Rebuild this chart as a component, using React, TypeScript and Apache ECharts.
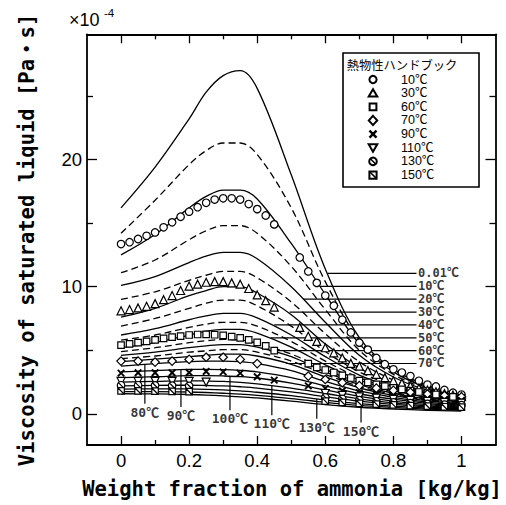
import React, { useEffect, useRef } from "react";
import * as echarts from "echarts";

// ---------- axes ----------
const X_MIN = -0.1;
const X_MAX = 1.1;
const Y_MIN = -2.45;
const Y_MAX = 29.85;
const xMajorTicks = [0, 0.2, 0.4, 0.6, 0.8, 1];
const xMinorTicks = [0.1, 0.3, 0.5, 0.7, 0.9];
const yMajorTicks = [0, 10, 20];
const yMinorTicks = [5, 15, 25];

// ---------- model curves (x = weight fraction) ----------
const curveX = [0, 0.1, 0.2, 0.25, 0.3, 0.35, 0.4, 0.5, 0.6, 0.7, 0.8, 0.9, 1.0];
const curveT001 = [16.2, 19.4, 23.2, 25.3, 26.6, 27.0, 25.6, 18.8, 11.4, 6.0, 3.5, 2.25, 1.5];
const curveT05 = [14.2, 16.8, 19.6, 20.7, 21.3, 21.3, 20.4, 16.2, 10.4, 5.8, 3.4, 2.15, 1.45];
const curveT10 = [12.5, 14.1, 16.2, 17.1, 17.6, 17.6, 16.9, 13.4, 9.4, 5.5, 3.3, 2.05, 1.4];
const curveT15 = [11.1, 12.1, 13.7, 14.4, 14.8, 14.8, 14.2, 11.6, 8.2, 5.0, 3.1, 1.95, 1.33];
const curveT20 = [10.1, 10.8, 11.9, 12.4, 12.7, 12.7, 12.2, 10.0, 7.2, 4.6, 2.9, 1.85, 1.27];
const curveT25 = [9.0, 9.6, 10.5, 10.9, 11.2, 11.2, 10.7, 8.8, 6.3, 4.1, 2.65, 1.72, 1.2];
const curveT30 = [7.6, 8.3, 9.3, 9.7, 10.0, 10.0, 9.5, 7.8, 5.5, 3.6, 2.4, 1.6, 1.13];
const curveT35 = [6.9, 7.5, 8.3, 8.7, 8.95, 8.95, 8.5, 6.9, 4.9, 3.3, 2.25, 1.5, 1.08];
const curveT40 = [6.2, 6.7, 7.4, 7.7, 7.9, 7.9, 7.55, 6.2, 4.5, 3.05, 2.1, 1.42, 1.03];
const curveT45 = [5.8, 6.2, 6.8, 7.05, 7.2, 7.2, 6.9, 5.7, 4.15, 2.85, 1.95, 1.35, 0.98];
const curveT50 = [5.2, 5.6, 6.2, 6.5, 6.65, 6.65, 6.35, 5.25, 3.85, 2.65, 1.85, 1.28, 0.93];
const curveT55 = [4.9, 5.2, 5.6, 5.75, 5.85, 5.8, 5.55, 4.7, 3.5, 2.45, 1.72, 1.2, 0.88];
const curveT60 = [4.6, 4.85, 5.2, 5.35, 5.45, 5.45, 5.25, 4.5, 3.3, 2.3, 1.62, 1.14, 0.84];
const curveT65 = [4.35, 4.55, 4.85, 4.95, 5.05, 5.05, 4.85, 4.15, 3.1, 2.17, 1.53, 1.08, 0.8];
const curveT70 = [4.1, 4.3, 4.5, 4.6, 4.7, 4.7, 4.55, 3.9, 2.9, 2.05, 1.45, 1.02, 0.76];
const curveT80 = [3.75, 3.95, 4.1, 4.15, 4.15, 4.1, 3.95, 3.4, 2.55, 1.8, 1.3, 0.92, 0.68];
const curveT90 = [3.3, 3.4, 3.5, 3.5, 3.48, 3.42, 3.3, 2.85, 2.2, 1.58, 1.15, 0.82, 0.6];
const curveT100 = [2.85, 2.92, 3.0, 3.0, 2.98, 2.93, 2.82, 2.42, 1.88, 1.38, 1.0, 0.72, 0.53];
const curveT110 = [2.5, 2.55, 2.6, 2.58, 2.55, 2.48, 2.36, 2.02, 1.6, 1.18, 0.87, 0.63, 0.47];
const curveT120 = [2.2, 2.24, 2.25, 2.23, 2.2, 2.13, 2.03, 1.73, 1.35, 1.0, 0.74, 0.54, 0.4];
const curveT130 = [1.95, 1.97, 1.96, 1.93, 1.88, 1.8, 1.7, 1.43, 1.08, 0.8, 0.6, 0.44, 0.33];
const curveT140 = [1.75, 1.75, 1.72, 1.68, 1.62, 1.55, 1.45, 1.2, 0.9, 0.66, 0.5, 0.37, 0.28];
const curveT150 = [1.58, 1.57, 1.52, 1.48, 1.42, 1.34, 1.25, 1.0, 0.73, 0.52, 0.38, 0.28, 0.22];

const curveNames = ["0.01", "5", "10", "15", "20", "25", "30", "35", "40", "45", "50", "55", "60", "65", "70", "80", "90", "100", "110", "120", "130", "140", "150"];
const curveDashed = [false, true, false, true, false, true, false, true, false, true, false, true, false, true, false, false, false, false, false, false, false, false, false];
const curveValues = [curveT001, curveT05, curveT10, curveT15, curveT20, curveT25, curveT30, curveT35, curveT40, curveT45, curveT50, curveT55, curveT60, curveT65, curveT70, curveT80, curveT90, curveT100, curveT110, curveT120, curveT130, curveT140, curveT150];

// ---------- handbook data (markers) ----------
const circleX = [0, 0.025, 0.05, 0.075, 0.1, 0.125, 0.15, 0.175, 0.2, 0.225, 0.25, 0.275, 0.3, 0.325, 0.35, 0.375, 0.4, 0.425, 0.45, 0.525, 0.55, 0.575, 0.6, 0.625, 0.65, 0.675, 0.7, 0.725, 0.75, 0.775, 0.8, 0.825, 0.85, 0.875, 0.9, 0.925, 0.95, 0.975, 1];
const circleY = [13.35, 13.5, 13.75, 14.0, 14.27, 14.67, 15.06, 15.5, 15.9, 16.25, 16.6, 16.85, 16.95, 16.95, 16.85, 16.5, 16.1, 15.6, 14.9, 12.3, 11.2, 10.3, 9.3, 8.5, 7.4, 6.4, 5.6, 5.05, 4.4, 3.9, 3.5, 3.25, 2.97, 2.6, 2.3, 2.15, 1.88, 1.66, 1.52];
const triangleX = [0, 0.025, 0.05, 0.075, 0.1, 0.125, 0.15, 0.175, 0.2, 0.225, 0.25, 0.275, 0.3, 0.325, 0.35, 0.375, 0.4, 0.425, 0.45, 0.525, 0.55, 0.575, 0.6, 0.625, 0.65, 0.675, 0.7, 0.725, 0.75, 0.775, 0.8, 0.825, 0.85, 0.875, 0.9, 0.925, 0.95, 0.975, 1];
const triangleY = [8.1, 8.2, 8.33, 8.46, 8.67, 8.98, 9.3, 9.7, 10.05, 10.2, 10.35, 10.4, 10.4, 10.3, 10.2, 9.86, 9.35, 8.9, 8.4, 6.8, 6.1, 5.7, 5.2, 4.8, 4.4, 3.97, 3.75, 3.4, 3.1, 2.85, 2.6, 2.4, 2.2, 2.02, 1.87, 1.73, 1.6, 1.48, 1.38];
const squareX = [0, 0.025, 0.05, 0.075, 0.1, 0.125, 0.15, 0.175, 0.2, 0.225, 0.25, 0.275, 0.3, 0.325, 0.35, 0.375, 0.4, 0.425, 0.45, 0.55, 0.575, 0.6, 0.625, 0.65, 0.675, 0.7, 0.725, 0.75, 0.775, 0.8, 0.825, 0.85, 0.875, 0.9, 0.925, 0.95, 0.975, 1];
const squareY = [5.4, 5.5, 5.6, 5.7, 5.82, 5.93, 6.03, 6.12, 6.2, 6.24, 6.25, 6.22, 6.17, 6.08, 5.97, 5.82, 5.62, 5.35, 4.98, 3.95, 3.65, 3.45, 3.25, 3.02, 2.82, 2.62, 2.47, 2.32, 2.18, 2.05, 1.93, 1.82, 1.72, 1.62, 1.52, 1.43, 1.34, 1.26];
const diamondX = [0, 0.05, 0.1, 0.15, 0.2, 0.25, 0.3, 0.35, 0.4, 0.55, 0.6, 0.65, 0.7, 0.75, 0.8, 0.85, 0.9, 0.95, 1];
const diamondY = [4.15, 4.15, 4.07, 4.15, 4.28, 4.45, 4.45, 4.28, 3.95, 2.97, 2.7, 2.45, 2.22, 2.02, 1.85, 1.7, 1.56, 1.44, 1.33];
const crossX = [0, 0.05, 0.1, 0.15, 0.2, 0.25, 0.3, 0.35, 0.4, 0.45, 0.55, 0.6, 0.65, 0.7, 0.75, 0.8, 0.85, 0.9, 0.95, 1];
const crossY = [3.2, 3.23, 3.23, 3.23, 3.25, 3.33, 3.3, 3.2, 2.92, 2.65, 2.2, 2.0, 1.82, 1.66, 1.52, 1.4, 1.3, 1.2, 1.12, 1.05];
const triDownX = [0, 0.05, 0.1, 0.15, 0.2, 0.25, 0.6, 0.65, 0.7, 0.75, 0.8, 0.85, 0.9, 0.95, 1];
const triDownY = [2.55, 2.55, 2.56, 2.56, 2.55, 2.5, 1.6, 1.46, 1.34, 1.24, 1.14, 1.05, 0.97, 0.9, 0.84];
const circSlashX = [0, 0.05, 0.1, 0.15, 0.2, 0.6, 0.65, 0.7, 0.75, 0.8, 0.85, 0.9, 0.95, 1];
const circSlashY = [2.25, 2.25, 2.24, 2.22, 2.2, 1.3, 1.18, 1.08, 0.99, 0.91, 0.84, 0.78, 0.73, 0.69];
const rectSlashX = [0, 0.05, 0.1, 0.15, 0.2, 0.6, 0.65, 0.7, 0.75, 0.8, 0.85, 0.9, 0.95, 1];
const rectSlashY = [1.8, 1.8, 1.78, 1.76, 1.74, 1.0, 0.91, 0.83, 0.76, 0.7, 0.65, 0.6, 0.56, 0.53];

const legendTitle = "熱物性ハンドブック";
const legendLabels = ["10℃", "30℃", "60℃", "70℃", "90℃", "110℃", "130℃", "150℃"];
const legendKinds = ["circle", "triangle", "rect", "diamond", "cross", "triDown", "circSlash", "rectSlash"];
const markerXs = [circleX, triangleX, squareX, diamondX, crossX, triDownX, circSlashX, rectSlashX];
const markerYs = [circleY, triangleY, squareY, diamondY, crossY, triDownY, circSlashY, rectSlashY];

// ---------- curve annotations ----------
const rightLabels = ["0.01℃", "10℃", "20℃", "30℃", "40℃", "50℃", "60℃", "70℃"];
const rightLabelY = [11.04, 10.03, 9.02, 8.0, 6.99, 5.98, 4.97, 3.96];
const rightLeaderStartX = [0.607, 0.584, 0.535, 0.495, 0.45, 0.44, 0.435, 0.485];
const rightLeaderEndX = 0.868;
const bottomLabels = ["80℃", "90℃", "100℃", "110℃", "130℃", "150℃"];
const bottomLeaderX = [0.07, 0.176, 0.32, 0.443, 0.575, 0.705];
const bottomLeaderTopY = [3.88, 3.49, 2.98, 2.2, 1.18, 0.52];
const bottomLeaderBottomY = [0.8, 0.54, 0.28, -0.11, -0.38, -0.69];

const xAxisTitle = "Weight fraction of ammonia [kg/kg]";
const yAxisTitle = "Viscosity of saturated liquid [Pa・s]";

const MONO = '"DejaVu Sans Mono", "Noto Sans CJK JP", monospace';
const SANS = '"Liberation Sans", Arial, "Noto Sans CJK JP", sans-serif';

const circlePath =
  "path://M10,0C15.52,0,20,4.48,20,10C20,15.52,15.52,20,10,20C4.48,20,0,15.52,0,10C0,4.48,4.48,0,10,0ZM3,3L17,17";
const symbolFor: Record<string, any> = {
  circle: { symbol: "circle", size: 7.5, rotate: 0, bw: 1.2 },
  triangle: { symbol: "triangle", size: 8, rotate: 0, bw: 1.2 },
  rect: { symbol: "rect", size: 6.5, rotate: 0, bw: 1.2 },
  diamond: { symbol: "diamond", size: 8.5, rotate: 0, bw: 1.2 },
  cross: { symbol: "path://M0,0L10,10M10,0L0,10", size: 6.5, rotate: 0, bw: 1.9 },
  triDown: { symbol: "triangle", size: 8, rotate: 180, bw: 1.2 },
  circSlash: { symbol: circlePath, size: 7.5, rotate: 0, bw: 1.2 },
  rectSlash: { symbol: "path://M0,0L20,0L20,20L0,20ZM0,0L20,20", size: 6.5, rotate: 0, bw: 1.2 },
};

const LZ = 11;
function legendIcon(kind: string, cx: number, cy: number): any[] {
  const st = { fill: "#fff", stroke: "#000", lineWidth: 2 };
  const ln = (x1: number, y1: number, x2: number, y2: number, w: number) => ({
    type: "line",
    z: LZ,
    shape: { x1, y1, x2, y2 },
    style: { stroke: "#000", lineWidth: w },
  });
  switch (kind) {
    case "circle":
      return [{ type: "circle", z: LZ, shape: { cx, cy, r: 3.6 }, style: st }];
    case "triangle":
      return [{ type: "polygon", z: LZ, shape: { points: [[cx, cy - 4], [cx + 4.3, cy + 3.4], [cx - 4.3, cy + 3.4]] }, style: st }];
    case "rect":
      return [{ type: "rect", z: LZ, shape: { x: cx - 3.4, y: cy - 3.4, width: 6.8, height: 6.8 }, style: st }];
    case "diamond":
      return [{ type: "polygon", z: LZ, shape: { points: [[cx, cy - 4.6], [cx + 4.2, cy], [cx, cy + 4.6], [cx - 4.2, cy]] }, style: st }];
    case "cross":
      return [ln(cx - 3.5, cy - 3.5, cx + 3.5, cy + 3.5, 2.4), ln(cx + 3.5, cy - 3.5, cx - 3.5, cy + 3.5, 2.4)];
    case "triDown":
      return [{ type: "polygon", z: LZ, shape: { points: [[cx - 4.3, cy - 3.4], [cx + 4.3, cy - 3.4], [cx, cy + 4]] }, style: st }];
    case "circSlash":
      return [
        { type: "circle", z: LZ, shape: { cx, cy, r: 3.8 }, style: st },
        ln(cx - 2.6, cy - 2.6, cx + 2.6, cy + 2.6, 1.6),
      ];
    default:
      return [
        { type: "rect", z: LZ, shape: { x: cx - 3.6, y: cy - 3.6, width: 7.2, height: 7.2 }, style: st },
        ln(cx - 3.6, cy - 3.6, cx + 3.6, cy + 3.6, 1.6),
      ];
  }
}

function buildOption(): any {
  const fmt = (v: number) => String(Math.round(v * 10) / 10);
  const frame = { show: true, onZero: false, lineStyle: { color: "#000", width: 1.8 } };
  const tickStyle = { color: "#000", width: 1.3 };
  const xBase = { type: "value", min: X_MIN, max: X_MAX, splitLine: { show: false }, gridIndex: 0 };
  const yBase = { type: "value", min: Y_MIN, max: Y_MAX, splitLine: { show: false }, gridIndex: 0 };

  const xAxis = [
    {
      ...xBase,
      position: "bottom",
      axisLine: frame,
      axisTick: { show: true, inside: true, length: 9, lineStyle: tickStyle, customValues: xMajorTicks },
      axisLabel: { show: true, customValues: xMajorTicks, formatter: fmt, color: "#000", fontSize: 18.5, fontFamily: SANS, margin: 6 },
    },
    {
      ...xBase,
      position: "bottom",
      axisLine: { show: false, onZero: false },
      axisTick: { show: true, inside: true, length: 5, lineStyle: tickStyle, customValues: xMinorTicks },
      axisLabel: { show: false },
    },
    {
      ...xBase,
      position: "top",
      axisLine: frame,
      axisTick: { show: true, inside: true, length: 9, lineStyle: tickStyle, customValues: xMajorTicks },
      axisLabel: { show: false },
    },
    {
      ...xBase,
      position: "top",
      axisLine: { show: false, onZero: false },
      axisTick: { show: true, inside: true, length: 5, lineStyle: tickStyle, customValues: xMinorTicks },
      axisLabel: { show: false },
    },
  ];
  const yAxis = [
    {
      ...yBase,
      position: "left",
      axisLine: frame,
      axisTick: { show: true, inside: true, length: 10, lineStyle: tickStyle, customValues: yMajorTicks },
      axisLabel: { show: true, customValues: yMajorTicks, color: "#000", fontSize: 18.5, fontFamily: SANS, margin: 5 },
    },
    {
      ...yBase,
      position: "left",
      axisLine: { show: false, onZero: false },
      axisTick: { show: true, inside: true, length: 6, lineStyle: tickStyle, customValues: yMinorTicks },
      axisLabel: { show: false },
    },
    {
      ...yBase,
      position: "right",
      axisLine: frame,
      axisTick: { show: true, inside: true, length: 10, lineStyle: tickStyle, customValues: yMajorTicks },
      axisLabel: { show: false },
    },
    {
      ...yBase,
      position: "right",
      axisLine: { show: false, onZero: false },
      axisTick: { show: true, inside: true, length: 6, lineStyle: tickStyle, customValues: yMinorTicks },
      axisLabel: { show: false },
    },
  ];

  const series: any[] = [];
  curveValues.forEach((vals, i) => {
    series.push({
      type: "line",
      name: curveNames[i] + "℃ model",
      data: curveX.map((x, k) => [x, vals[k]]),
      smooth: 0.35,
      symbol: "none",
      silent: true,
      z: 2,
      lineStyle: { color: "#000", width: 1.3, type: curveDashed[i] ? [7, 4] : "solid" },
    });
  });
  // right leaders
  rightLabels.forEach((lab, i) => {
    series.push({
      type: "line",
      data: [[rightLeaderStartX[i], rightLabelY[i]], [rightLeaderEndX, rightLabelY[i]]],
      symbol: "none",
      silent: true,
      z: 2,
      lineStyle: { color: "#000", width: 1.2 },
    });
  });
  series.push({
    type: "scatter",
    silent: true,
    symbolSize: 1,
    itemStyle: { color: "rgba(0,0,0,0)" },
    data: rightLabels.map((lab, i) => ({ name: lab, value: [rightLeaderEndX, rightLabelY[i]] })),
    label: {
      show: true,
      position: "right",
      distance: 1,
      formatter: (p: any) => p.name,
      color: "#000",
      fontSize: 12,
      lineHeight: 12,
      fontWeight: "bold",
      fontFamily: MONO,
    },
    z: 5,
  });
  // bottom leaders
  bottomLabels.forEach((lab, i) => {
    series.push({
      type: "line",
      data: [[bottomLeaderX[i], bottomLeaderTopY[i]], [bottomLeaderX[i], bottomLeaderBottomY[i]]],
      symbol: "none",
      silent: true,
      z: 2,
      lineStyle: { color: "#000", width: 1.2 },
    });
  });
  series.push({
    type: "scatter",
    silent: true,
    symbolSize: 1,
    itemStyle: { color: "rgba(0,0,0,0)" },
    data: bottomLabels.map((lab, i) => ({ name: lab, value: [bottomLeaderX[i], bottomLeaderBottomY[i]] })),
    label: {
      show: true,
      position: "bottom",
      distance: 1.5,
      formatter: (p: any) => p.name,
      color: "#000",
      fontSize: 13,
      fontWeight: "bold",
      fontFamily: MONO,
    },
    z: 5,
  });
  // handbook markers
  legendKinds.forEach((kind, i) => {
    const s = symbolFor[kind];
    series.push({
      type: "scatter",
      name: legendLabels[i],
      silent: true,
      symbol: s.symbol,
      symbolSize: s.size,
      symbolRotate: s.rotate,
      symbolKeepAspect: true,
      itemStyle: { color: "#fff", borderColor: "#000", borderWidth: s.bw, opacity: 1 },
      data: markerXs[i].map((x, k) => [x, markerYs[i][k]]),
      z: 4,
    });
  });

  // graphic: titles and legend
  const graphic: any[] = [
    {
      type: "text",
      x: 292,
      y: 489,
      style: { text: xAxisTitle, fontSize: 20.5, fontWeight: "bold", fontFamily: MONO, fill: "#000", align: "center", verticalAlign: "middle", textAlign: "center", textVerticalAlign: "middle" },
    },
    {
      type: "text",
      x: 27,
      y: 240,
      rotation: Math.PI / 2,
      style: { text: yAxisTitle, fontSize: 20.5, fontWeight: "bold", fontFamily: MONO, fill: "#000", align: "center", verticalAlign: "middle", textAlign: "center", textVerticalAlign: "middle" },
    },
    {
      type: "text",
      x: 69,
      y: 20,
      style: { text: "×10", fontSize: 18, fontFamily: SANS, fill: "#000", align: "left", verticalAlign: "middle", textAlign: "left", textVerticalAlign: "middle" },
    },
    {
      type: "text",
      x: 104,
      y: 13,
      style: { text: "-4", fontSize: 11.5, fontFamily: SANS, fill: "#000", align: "left", verticalAlign: "middle", textAlign: "left", textVerticalAlign: "middle" },
    },
    {
      type: "rect",
      z: 10,
      shape: { x: 343, y: 53, width: 136, height: 134 },
      style: { fill: "#fff", stroke: "#000", lineWidth: 1.6 },
    },
    {
      type: "text",
      x: 402,
      y: 65,
      z: LZ,
      style: { text: legendTitle, fontSize: 12.3, fontFamily: '"Noto Sans CJK JP", sans-serif', fill: "#000", align: "center", verticalAlign: "middle", textAlign: "center", textVerticalAlign: "middle" },
    },
  ];
  legendLabels.forEach((lab, i) => {
    const cy = 79.5 + 13.65 * i;
    legendIcon(legendKinds[i], 373, cy).forEach((el) => graphic.push(el));
    graphic.push({
      type: "text",
      x: 401,
      y: cy,
      z: LZ,
      style: { text: lab, fontSize: 12.5, fontFamily: SANS, fill: "#000", align: "left", verticalAlign: "middle", textAlign: "left", textVerticalAlign: "middle" },
    });
  });

  return {
    animation: false,
    backgroundColor: "#fff",
    grid: { left: 87, top: 34.3, width: 408.5, height: 410.7, containLabel: false },
    xAxis,
    yAxis,
    series,
    graphic: { elements: graphic },
  };
}

export default function App() {
  const ref = useRef<HTMLDivElement>(null);
  useEffect(() => {
    if (!ref.current) return;
    const chart = echarts.init(ref.current, undefined, { renderer: "svg" });
    chart.setOption(buildOption());
    return () => chart.dispose();
  }, []);
  return (
    <div
      ref={ref}
      style={{ position: "fixed", left: 0, top: 0, width: 506, height: 505, background: "#fff" }}
    />
  );
}
